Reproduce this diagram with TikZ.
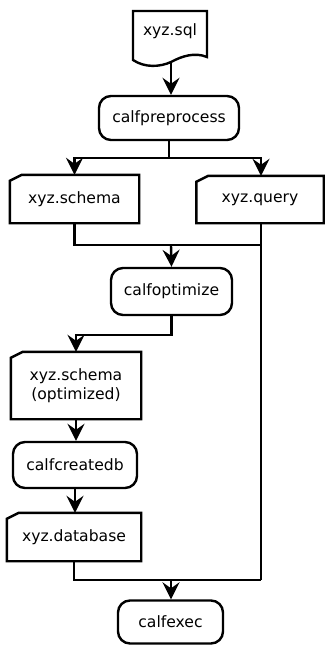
\documentclass[tikz,border=0pt]{standalone}
\usepackage{fontspec}
\setmainfont{DejaVu Sans}
\usetikzlibrary{arrows.meta}
\begin{document}
\begin{tikzpicture}[x=1pt,y=-1pt,
  line width=2.4pt,
  every node/.style={font=\fontsize{15.6}{19}\selectfont, align=center, inner sep=0pt},
  proc/.style={draw, rounded corners=12pt},
  card/.style={draw=none},
  arr/.style={-{Stealth[length=17pt,width=17pt,inset=6pt]}}]
\useasboundingbox (0,0) rectangle (324,645);
% document
\node (sql) at (170,31) {xyz.sql};
\draw (133,60) -- (133,11) -- (207,11) -- (207,57)
  .. controls (195,52) and (182,56) .. (171,62)
  .. controls (160,67) and (145,68) .. cycle;
\coordinate (sqlb) at (171,63);
% nodes
\node[proc, minimum width=140pt, minimum height=44pt] (pre) at (169,118) {calfpreprocess};
\node[card, minimum width=127pt, minimum height=46pt] (schema) at (74.5,199) {xyz.schema};
\node[card, minimum width=125pt, minimum height=45pt] (query) at (260,199.5) {xyz.query};
\node[proc, minimum width=121pt, minimum height=47pt] (opt) at (171.5,291.5) {calfoptimize};
\node[card, minimum width=128pt, minimum height=65pt] (schemaopt) at (76,385.5) {xyz.schema\\(optimized)};
\node[proc, minimum width=124pt, minimum height=46pt] (createdb) at (75,465) {calfcreatedb};
\node[card, minimum width=132pt, minimum height=46pt] (database) at (74,537) {xyz.database};
\node[proc, minimum width=105pt, minimum height=43pt] (exec) at (170.5,622) {calfexec};
\foreach \n in {schema,query,schemaopt,database}
  \draw ([xshift=12pt]\n.north west) -- (\n.north east) -- (\n.south east)
    -- (\n.south west) -- ([yshift=-6pt]\n.north west) -- cycle;
% connectors
\coordinate (split) at (169,158);
\coordinate (j1) at (171,245);
\coordinate (j2) at (171,580);
\draw[arr] (sqlb) -- (sqlb |- pre.north);
\draw (pre.south) -- (split);
\draw[arr] (split) -| (schema.north);
\draw[arr] (split) -| ([xshift=1pt]query.north);
\draw (schema.south) |- ([xshift=1pt]query.south |- j1);
\draw[arr] (j1) -- (opt.north);
\draw ([xshift=1pt]query.south) -- ([xshift=1pt]query.south |- j2);
\draw[arr] (opt.south) -- ++(0,19) -| (schemaopt.north);
\draw[arr] (schemaopt.south) -- (schemaopt.south |- createdb.north);
\draw[arr] (createdb.south) -- (createdb.south |- database.north);
\draw (database.south) |- ([xshift=1pt]query.south |- j2);
\draw[arr] (j2) -- (j2 |- exec.north);
\end{tikzpicture}
\end{document}
